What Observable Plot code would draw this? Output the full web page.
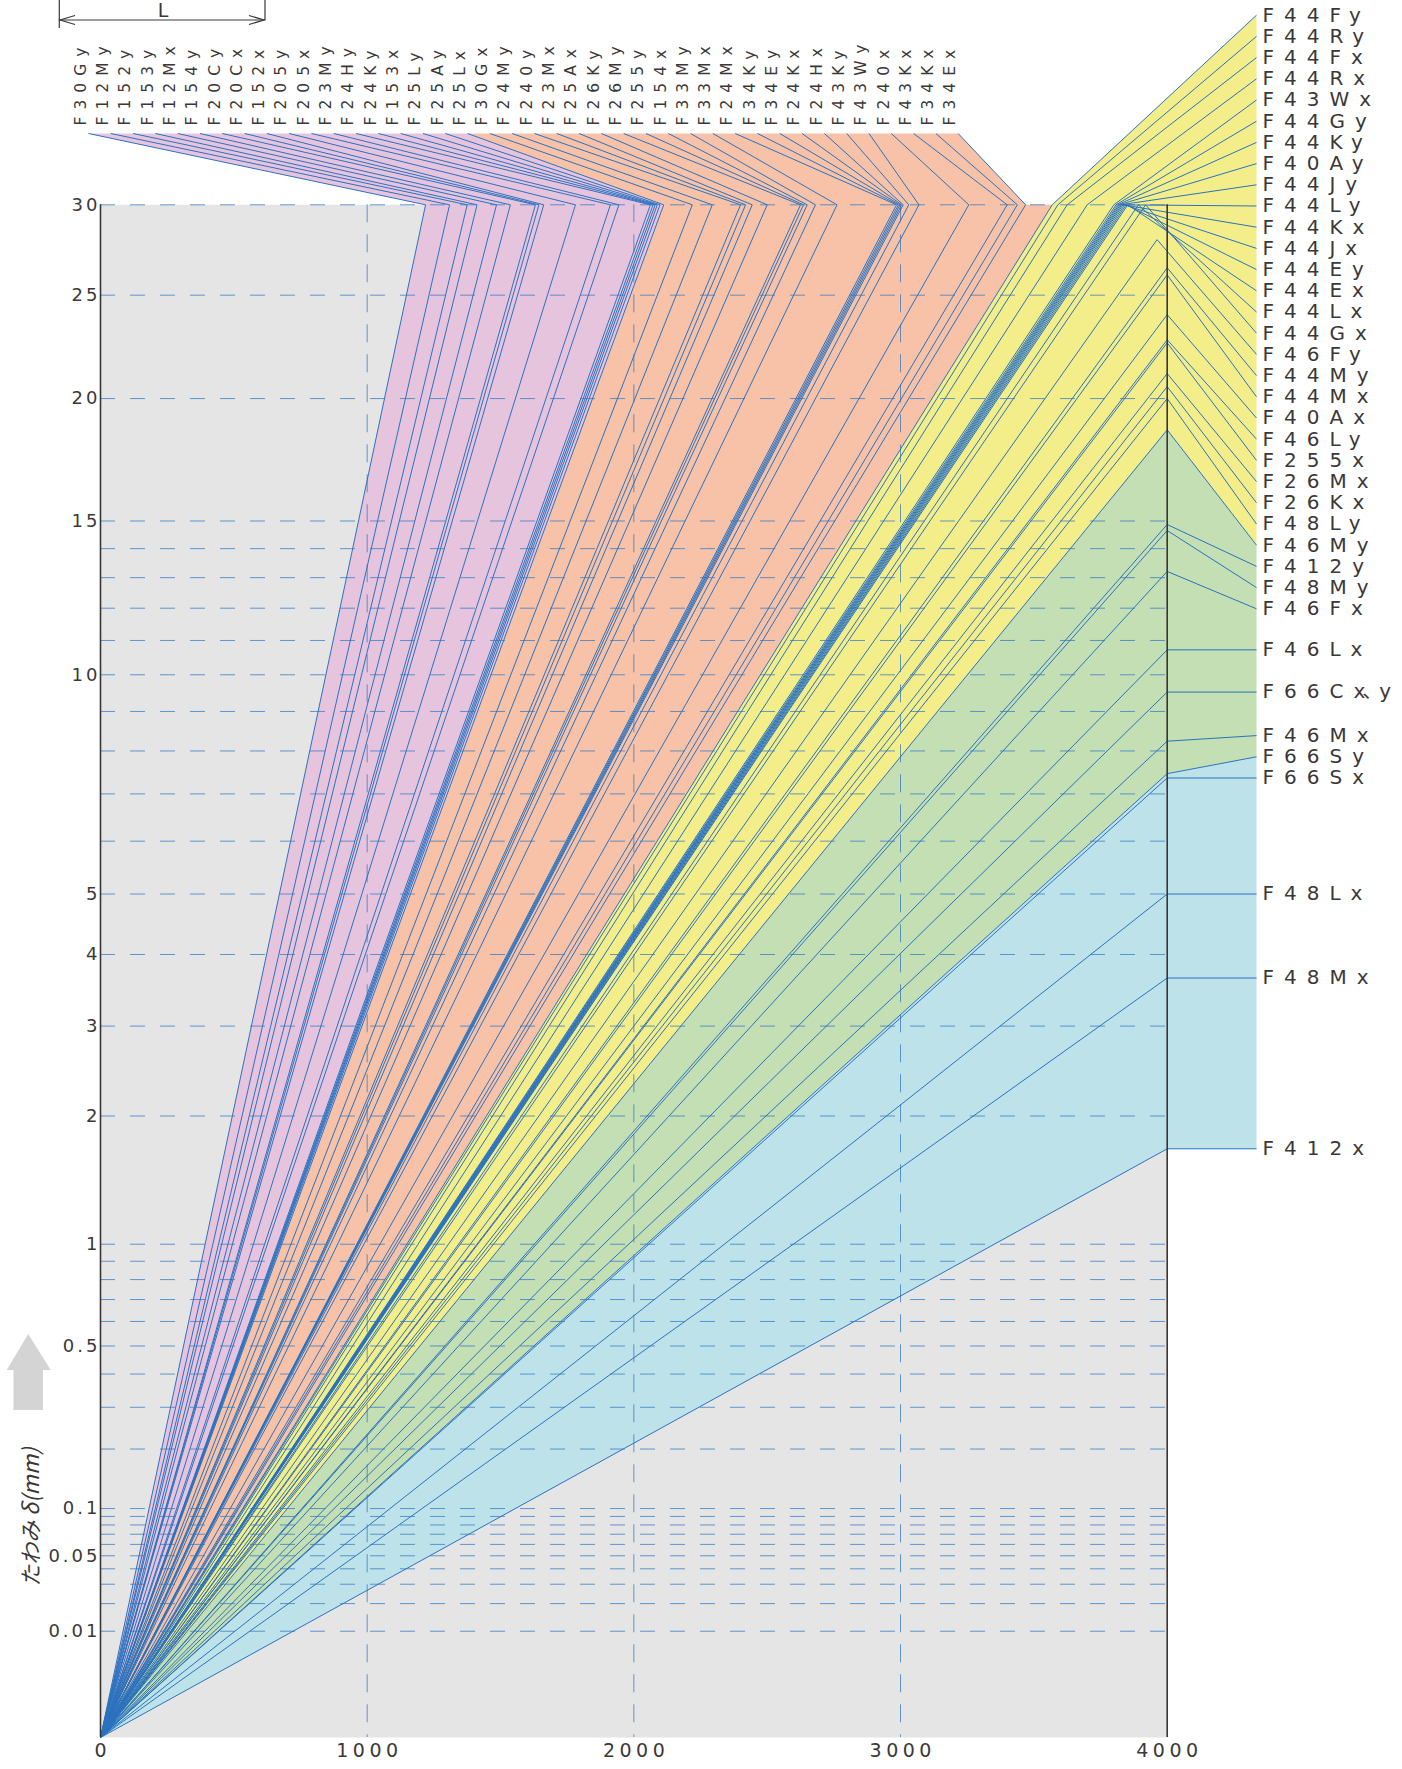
<!DOCTYPE html>
<html>
<head>
<meta charset="utf-8">
<script src="https://cdn.jsdelivr.net/npm/d3@7"></script>
<script src="https://cdn.jsdelivr.net/npm/@observablehq/plot@0.6"></script>
<style>
  body { margin: 0; background: #fff; }
</style>
</head>
<body>
<div id="chart"></div>
<script>
// ---------------- DATA ----------------
// Lines that reach δ = 30 mm, labelled along the top (left to right)
const topLabels = ["F30Gy","F12My","F152y","F153y","F12Mx","F154y","F20Cy","F20Cx","F152x","F205y",
  "F205x","F23My","F24Hy","F24Ky","F153x","F25Ly","F25Ay","F25Lx","F30Gx","F24My",
  "F240y","F23Mx","F25Ax","F26Ky","F26My","F255y","F154x","F33My","F33Mx","F24Mx",
  "F34Ky","F34Ey","F24Kx","F24Hx","F43Ky","F43Wy","F240x","F43Kx","F34Kx","F34Ex"];
// span L (mm) at which δ reaches 30 mm
const topEndL = [1219,1309,1375,1412,1485,1537,1631,1644,1662,1781,
  1912,1944,2062,2072,2080,2088,2098,2112,2219,2294,
  2400,2419,2444,2500,2625,2636,2650,2681,2762,2985,
  2992,2998,3004,3010,3031,3069,3256,3400,3438,3469];
const topGroupSizes = [18, 22];          // pink, salmon

// Lines labelled on the right (top to bottom)
const rightLabels = ["F44Fy","F44Ry","F44Fx","F44Rx","F43Wx","F44Gy","F44Ky","F40Ay","F44Jy","F44Ly",
  "F44Kx","F44Jx","F44Ey","F44Ex","F44Lx","F44Gx","F46Fy","F44My","F44Mx","F40Ax",
  "F46Ly","F255x","F26Mx","F26Kx","F48Ly","F46My","F412y","F48My","F46Fx","F46Lx",
  "F66Cx、y","F46Mx","F66Sy","F66Sx","F48Lx","F48Mx","F412x"];
// end point of each line: span L (mm) and deflection δ (mm)
const rightEndL = [3569,3590,3625,3700,3800,3808,3814,3819,3824,3829,
  3834,3840,3846,3852,3892,3919,3962,4000,4000,4000,
  4000,4000,4000,4000,4000,4000,4000,4000,4000,4000,
  4000,4000,4000,4000,4000,4000,4000];
const rightEndD = [30,30,30,30,30,30,30,30,30,30,
  30,30,30,30,30,30,28.0,26.45,26.07,24.0,
  22.75,22.6,21.14,20.54,20.0,18.63,14.87,14.65,13.21,10.72,
  9.52,8.24,7.46,7.36,5.0,3.65,1.70];
const rightGroupSizes = [25, 7, 5];      // yellow, green, blue

const gridY = [30,25,20,15,14,13,12,11,10,9,8,7,6,5,4,3,2,1,0.9,0.8,0.7,0.6,0.5,0.4,0.3,0.2,
  0.1,0.09,0.08,0.07,0.06,0.05,0.04,0.03,0.02,0.01];
const gridX = [1000, 2000, 3000];
const yTickValues = [30,25,20,15,10,5,4,3,2,1,0.5,0.1,0.05,0.01];
const xTickValues = [0,1000,2000,3000,4000];
const yTitle = "たわみ δ(mm)";
const dimLabel = "L";

// ---------------- LAYOUT ----------------
const W = 1402, H = 1769;
const mL = 100, mR = W - 1166.7, mT = 204.3, mB = H - 1737;
const xS = d3.scaleLinear().domain([0, 4000]).range([mL, W - mR]);
const yS = d3.scalePow().exponent(1/3).domain([0, 30]).range([H - mB, mT]);

const FONT = "'DejaVu Sans', 'Noto Sans CJK JP', sans-serif";
const TEXT = "#3c3838";
const LINE = "#2b72bf";
const GRID = "#3479c2";
const bandColors = ["#e6c4de", "#f7c2a8", "#f4ee8a", "#c4dfb4", "#bee2e9"];

const col0 = 80.3, colPitch = 22.3;
const topTextY = yS.invert(125);
const topLeadY = yS.invert(133);
const topRows = topLabels.map((name, i) => ({
  name, L: topEndL[i], D: 30,
  tx: xS.invert(col0 + colPitch * i),
  ax: xS.invert(col0 + colPitch * i + 7.7),
  ay: topLeadY
}));

const row0 = 14.7, rowPitch = 21.2, stacked = 29;
const n = rightLabels.length;
const rPx = new Array(n);
for (let i = 0; i < stacked; i++) rPx[i] = row0 + rowPitch * i;
for (let i = n - 1; i >= stacked; i--) {
  const own = yS(rightEndD[i]);
  rPx[i] = i === n - 1 ? own : Math.min(own, rPx[i + 1] - rowPitch);
}
const rightRows = rightLabels.map((name, i) => ({
  name, L: rightEndL[i], D: rightEndD[i],
  ax: xS.invert(1256), ay: yS.invert(rPx[i]), tx: xS.invert(1262)
}));
const allRows = topRows.concat(rightRows);

// band polygons
const t = topRows, r = rightRows;
const p0 = topGroupSizes[0] - 1, pLast = t.length - 1;
const y0 = rightGroupSizes[0], g0 = y0 + rightGroupSizes[1], bLast = r.length - 1;
const end = d => [d.L, d.D], anc = d => [d.ax, d.ay];
const bands = [
  [[0,0], end(t[0]), anc(t[0]), anc(t[p0]), end(t[p0])],
  [[0,0], end(t[p0]), anc(t[p0]), anc(t[pLast]), end(t[pLast]), end(r[0])],
  [[0,0], end(r[0]), anc(r[0]), anc(r[y0]), end(r[y0])],
  [[0,0], end(r[y0]), anc(r[y0]), anc(r[g0]), end(r[g0])],
  [[0,0], end(r[g0]), anc(r[g0]), anc(r[bLast]), end(r[bLast])]
];

const plot = Plot.plot({
  width: W, height: H,
  marginLeft: mL, marginRight: mR, marginTop: mT, marginBottom: mB,
  style: { background: "white", fontFamily: FONT, color: TEXT, overflow: "visible" },
  x: { domain: [0, 4000], axis: null },
  y: { type: "pow", exponent: 1/3, domain: [0, 30], axis: null },
  marks: [
    Plot.frame({ fill: "#e4e5e4", stroke: "none" }),
    ...bands.map((pts, i) => Plot.line(pts, { x: d => d[0], y: d => d[1], fill: bandColors[i], stroke: "none" })),
    Plot.ruleY(gridY, { stroke: GRID, strokeWidth: 1, strokeDasharray: "15,15", strokeOpacity: 0.75 }),
    Plot.ruleX(gridX, { stroke: GRID, strokeWidth: 1, strokeDasharray: "18,12", strokeOpacity: 0.75 }),
    Plot.link(allRows, { x1: () => 0, y1: () => 0, x2: "L", y2: "D", stroke: LINE, strokeWidth: 1 }),
    Plot.link(allRows, { x1: "L", y1: "D", x2: "ax", y2: "ay", stroke: LINE, strokeWidth: 1 }),
    Plot.ruleX([0, 4000], { stroke: "#383535", strokeWidth: 1.6 }),
    Plot.text(topRows, { x: "tx", y: () => topTextY, text: "name", rotate: -90, textAnchor: "start",
      lineAnchor: "middle", fontSize: 15.5, fontFamily: FONT, fill: TEXT }),
    Plot.text(rightRows, { x: "tx", y: "ay", text: "name", textAnchor: "start",
      fontSize: 20, fontFamily: FONT, fill: TEXT }),
    Plot.text(yTickValues, { y: d => d, text: d => String(d), frameAnchor: "left", textAnchor: "end",
      dx: 0, fontSize: 18, fontFamily: FONT, fill: TEXT }),
    Plot.text(xTickValues, { x: d => d, text: d => String(d), frameAnchor: "bottom", dy: 19, dx: 2.2,
      fontSize: 19, fontFamily: FONT, fill: TEXT })
  ]
});
document.getElementById("chart").appendChild(plot);

// ---------------- TYPOGRAPHY: letter-spacing per label group ----------------
const svg = d3.select(plot);
function spaceGroupOf(sample, ls) {
  svg.selectAll("text").filter(function () { return this.textContent === sample; })
    .each(function () { d3.select(this.parentNode).attr("letter-spacing", ls).selectAll("text").attr("letter-spacing", ls); });
}
spaceGroupOf(topLabels[0], 7);
spaceGroupOf(rightLabels[0], 10);
spaceGroupOf(String(yTickValues[0]), 3);
spaceGroupOf(String(xTickValues[1]), 4.5);
// labels with a Japanese comma: keep the tail ("x、y") tight
svg.selectAll("text").filter(function () { return this.textContent.includes("、"); })
  .each(function () {
    const s = this.textContent, k = s.indexOf("、") - 1;
    const el = d3.select(this).text(null);
    el.append("tspan").text(s.slice(0, k));
    el.append("tspan").attr("letter-spacing", -3).text(s.slice(k));
  });

// ---------------- DECORATIONS ----------------
// up arrow beside the y title
svg.append("polygon")
  .attr("points", [[28.2,1334],[50.8,1370],[42.9,1370],[42.9,1410],[13.5,1410],[13.5,1370],[6.8,1370]].map(p => p.join(",")).join(" "))
  .attr("fill", "#d4d4d4");
// y title
svg.append("text")
  .attr("transform", "translate(31,1517) rotate(-90)")
  .attr("text-anchor", "middle").attr("dy", "0.35em")
  .attr("font-family", "'Noto Sans CJK JP', sans-serif").attr("font-style", "italic")
  .attr("font-size", 22).attr("fill", TEXT)
  .text(yTitle);
// span dimension sketch at the top
const dim = svg.append("g").attr("stroke", TEXT).attr("stroke-width", 1.2).attr("fill", "none");
dim.append("path").attr("d", "M59.3,0V28M265,0V20M59.3,20H265");
dim.append("path").attr("d", "M75,15.5L60,20L75,24.5M249,15.5L264,20L249,24.5");
svg.append("text").attr("x", 163).attr("y", 17).attr("text-anchor", "middle")
  .attr("font-family", FONT).attr("font-size", 19).attr("fill", TEXT).text(dimLabel);
</script>
</body>
</html>
